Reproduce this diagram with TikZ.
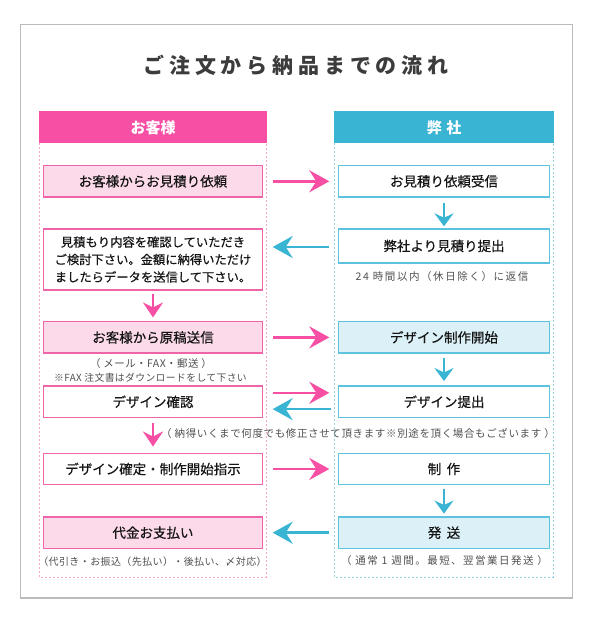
\documentclass[tikz,border=0pt]{standalone}
\usepackage{fontspec}
\setmainfont{Noto Sans CJK JP}
\newfontfamily\titlefont{Noto Sans CJK JP}[LetterSpace=23]
\newfontfamily\notefont{Noto Sans CJK JP}[LetterSpace=4]
\newfontfamily\boxfont{Noto Sans CJK JP}[FakeBold=0.45]
\usetikzlibrary{arrows.meta}
\definecolor{pinkhead}{HTML}{F64FA4}
\definecolor{pinkline}{HTML}{F064AA}
\definecolor{pinkfill}{HTML}{FCDAEA}
\definecolor{pinkdash}{HTML}{F7A6CD}
\definecolor{cyanhead}{HTML}{3AB4D3}
\definecolor{cyanline}{HTML}{5CC2DD}
\definecolor{cyanfill}{HTML}{DBF0F7}
\definecolor{cyandash}{HTML}{94D5E7}
\definecolor{framegray}{HTML}{BBBBBB}
\definecolor{titlegray}{HTML}{3C3C3C}
\definecolor{notegray}{HTML}{505050}
\definecolor{boxtext}{HTML}{151515}
\tikzset{
  lbox/.style={draw=pinkline, line width=1.4pt, fill=white, minimum width=219pt, minimum height=31.5pt, inner sep=0pt, text=boxtext, font=\fontsize{13.5}{16}\selectfont\boxfont},
  lboxf/.style={lbox, fill=pinkfill},
  rbox/.style={draw=cyanline, line width=1.4pt, fill=white, minimum width=211pt, minimum height=31.5pt, inner sep=0pt, text=boxtext, font=\fontsize{13.5}{16}\selectfont\boxfont},
  rboxf/.style={rbox, fill=cyanfill},
  colhead/.style={inner sep=0pt, text=white, font=\fontsize{15}{18}\selectfont\bfseries},
  note/.style={inner sep=0pt, text=notegray, font=\fontsize{10.5}{13}\selectfont\notefont},
  parr/.style={draw=pinkhead, line width=2.6pt, -{Stealth[length=20pt,width=22pt,inset=7pt]}},
  carr/.style={draw=cyanhead, line width=2.6pt, -{Stealth[length=20pt,width=22pt,inset=7pt]}},
  pdown/.style={draw=pinkhead, line width=2.4pt, -{Stealth[length=15pt,width=20pt,inset=5pt]}},
  cdown/.style={draw=cyanhead, line width=2.4pt, -{Stealth[length=13pt,width=19pt,inset=4.5pt]}},
}
\begin{document}
\begin{tikzpicture}[x=1pt,y=-1pt]
\useasboundingbox (0,0) rectangle (592,622);
\fill[white] (0,0) rectangle (592,622);
% outer frame
\draw[framegray, line width=1.3pt] (20.3,24.7) rectangle (572.7,598);
% title
\node[inner sep=0pt, text=titlegray, font=\fontsize{21}{24}\selectfont\titlefont\bfseries] (title) at (296,65) {ご注文から納品までの流れ};
% columns
\draw[pinkdash, line width=0.8pt, dash pattern=on 2pt off 2pt] (39.3,111) rectangle (266.7,577);
\draw[cyandash, line width=0.8pt, dash pattern=on 2pt off 2pt] (334.3,111) rectangle (553.5,577);
\fill[pinkhead] (39.3,111) rectangle (266.7,143);
\fill[cyanhead] (334.3,111) rectangle (553.5,143);
\node[colhead] (hl) at (153,127.5) {お客様};
\node[colhead] (hr) at (444,127.5) {弊\hspace{0.3em}社};
% left boxes
\node[lboxf] (L1) at (153,181.3) {お客様からお見積り依頼};
\node[lbox, minimum height=61pt, align=center, font=\fontsize{12.3}{17.5}\selectfont\boxfont] (L2) at (153,259.5) {見積もり内容を確認していただき\\ご検討下さい。金額に納得いただけ\\ましたらデータを送信して下さい。};
\node[lboxf] (L3) at (153,337.4) {お客様から原稿送信};
\node[lbox] (L4) at (153,401.8) {デザイン確認};
\node[lbox] (L5) at (153,469) {デザイン確定・制作開始指示};
\node[lboxf] (L6) at (153,532.7) {代金お支払い};
% right boxes
\node[rbox] (R1) at (444,181.3) {お見積り依頼受信};
\node[rbox, minimum height=34pt] (R2) at (444,246) {弊社より見積り提出};
\node[rboxf] (R3) at (444,337.4) {デザイン制作開始};
\node[rbox] (R4) at (444,401.8) {デザイン提出};
\node[rbox] (R5) at (444,469) {制\hspace{0.4em}作};
\node[rboxf] (R6) at (444,532.7) {発\hspace{0.4em}送};
% notes
\node[note] (n24) at (442,277) {\addfontfeature{LetterSpace=15}24 時間以内（休日除く）に返信};
\node[note] (nmail) at (151,364) {（ メール・FAX・郵送 ）};
\node[note, font=\fontsize{9.8}{12}\selectfont\notefont] (nfax) at (150.5,377.5) {※FAX 注文書はダウンロードをして下さい};
\node[note] (nfix) at (358,433) {\addfontfeature{LetterSpace=6}（ 納得いくまで何度でも修正させて頂きます※別途を頂く場合もございます ）};
\node[note, font=\fontsize{10}{12}\selectfont\notefont] (npay) at (152.5,561.7) {（代引き・お振込（先払い）・後払い、〆対応）};
\node[note] (nship) at (444.5,561) {\addfontfeature{LetterSpace=14}（ 通常 1 週間。最短、翌営業日発送 ）};
% horizontal arrows
\draw[parr, shorten <=10pt, shorten >=8.5pt] (L1.east) -- (R1.west);
\draw[carr, shorten <=8.5pt, shorten >=9.5pt] ([yshift=-1pt]R2.west) -- ([yshift=-1pt]R2.west -| L2.east);
\draw[parr, shorten <=10pt, shorten >=8.5pt] (L3.east) -- (R3.west);
\draw[parr, shorten <=10pt, shorten >=8.5pt] ([yshift=9pt]L4.east) -- ([yshift=9pt]R4.west);
\draw[carr, shorten <=7pt, shorten >=9.5pt] ([yshift=-7.3pt]R4.west) -- ([yshift=-7.3pt]L4.east);
\draw[parr, shorten <=10pt, shorten >=8.5pt] (L5.east) -- (R5.west);
\draw[carr, shorten <=8.5pt, shorten >=9.5pt] (R6.west) -- (L6.east);
% vertical arrows
\draw[pdown, shorten <=3pt, shorten >=3.5pt] (L2.south) -- (L3.north);
\draw[pdown, shorten <=5pt, shorten >=6pt] (L4.south) -- (L5.north);
\draw[cdown, shorten <=5pt, shorten >=2pt] (R1.south) -- (R2.north);
\draw[cdown, shorten <=3.7pt, shorten >=4.3pt] (R3.south) -- (R4.north);
\draw[cdown, shorten <=4pt, shorten >=2.7pt] (R5.south) -- (R6.north);
\end{tikzpicture}
\end{document}
